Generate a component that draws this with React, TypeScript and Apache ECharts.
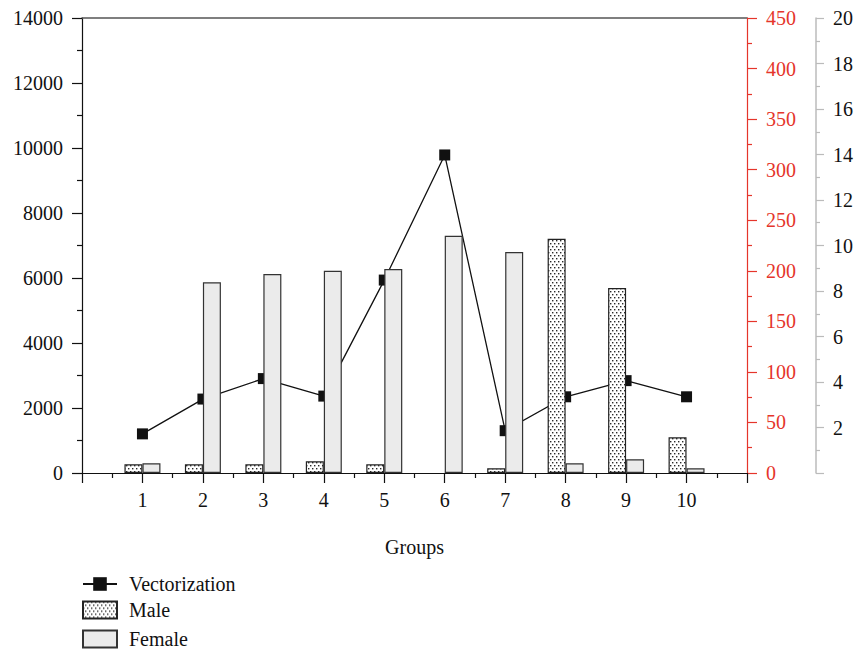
import React, { useEffect, useRef } from "react";
import * as echarts from "echarts";

const groups = ["1", "2", "3", "4", "5", "6", "7", "8", "9", "10"];
const vectorization = [1.72, 3.25, 4.15, 3.38, 8.48, 13.98, 1.86, 3.35, 4.06, 3.35];
const male = [268, 268, 268, 360, 268, 0, 145, 7210, 5692, 1098];
const female = [298, 5867, 6123, 6225, 6277, 7302, 6800, 298, 421, 145];

const FONT = "Liberation Serif";
const FS = 20;
const RED = "#e5352b";

function makeDots(): HTMLCanvasElement {
  const c = document.createElement("canvas");
  c.width = 4;
  c.height = 6;
  const ctx = c.getContext("2d")!;
  ctx.fillStyle = "#ffffff";
  ctx.fillRect(0, 0, 4, 6);
  ctx.fillStyle = "#2a2a2a";
  ctx.fillRect(0, 0, 1.4, 1.4);
  ctx.fillRect(2, 3, 1.4, 1.4);
  return c;
}

export default function App() {
  const ref = useRef<HTMLDivElement>(null);
  useEffect(() => {
    if (!ref.current) return;
    const chart = echarts.init(ref.current, undefined, { renderer: "svg" });
    const xData = ["", ...groups, ""];
    const pad = (a: (number | null)[]) => [null, ...a, null];
    const dots = { image: makeDots(), repeat: "repeat" };
    const legendText = { fontFamily: FONT, fontSize: FS, color: "#111", padding: [0, 0, 0, 7] };
    const mkLegend = (name: string, top: number) => ({
      orient: "vertical",
      left: 82,
      top,
      padding: 0,
      itemWidth: 34,
      itemHeight: 17,
      textStyle: legendText,
      data: [{ name, icon: name === "Vectorization" ? undefined : "rect" }],
    });
    chart.setOption({
      animation: false,
      textStyle: { fontFamily: FONT },
      grid: { left: 82, right: 108, top: 18, bottom: 183 },
      legend: [mkLegend("Vectorization", 574), mkLegend("Male", 600), mkLegend("Female", 629)],
      xAxis: [
        {
          type: "category",
          data: xData,
          boundaryGap: false,
          position: "bottom",
          name: "Groups",
          nameLocation: "middle",
          nameGap: 64,
          nameTextStyle: { fontFamily: FONT, fontSize: FS, color: "#111" },
          axisLine: { onZero: false, lineStyle: { color: "#111", width: 1.2 } },
          axisTick: { show: true, interval: 0, length: 10, lineStyle: { color: "#111", width: 1.2 } },
          axisLabel: { interval: 0, margin: 17, fontFamily: FONT, fontSize: FS, color: "#111" },
          splitLine: { show: false },
        },
        {
          type: "value",
          min: 0,
          max: 11,
          interval: 1,
          position: "bottom",
          axisLine: { show: false, onZero: false },
          axisTick: { show: false },
          axisLabel: { show: false },
          splitLine: { show: false },
          minorTick: { show: true, splitNumber: 2, length: 5, lineStyle: { color: "#111", width: 1.2 } },
        },
        {
          type: "value",
          min: 0,
          max: 11,
          position: "top",
          axisLine: { show: true, onZero: false, lineStyle: { color: "#555", width: 1.5 } },
          axisTick: { show: false },
          axisLabel: { show: false },
          splitLine: { show: false },
        },
      ],
      yAxis: [
        {
          type: "value",
          min: 0,
          max: 14000,
          interval: 2000,
          position: "left",
          axisLine: { show: true, onZero: false, lineStyle: { color: "#111", width: 1.2 } },
          axisTick: { show: true, length: 10, lineStyle: { color: "#111", width: 1.2 } },
          minorTick: { show: true, splitNumber: 2, length: 5, lineStyle: { color: "#111", width: 1.2 } },
          axisLabel: { margin: 19, fontFamily: FONT, fontSize: FS, color: "#111", formatter: (v: number) => String(v) },
          splitLine: { show: false },
        },
        {
          type: "value",
          min: 0,
          max: 450,
          interval: 50,
          position: "right",
          axisLine: { show: true, onZero: false, lineStyle: { color: RED, width: 1.2 } },
          axisTick: { show: true, length: 10, lineStyle: { color: RED, width: 1.2 } },
          minorTick: { show: true, splitNumber: 2, length: 5, lineStyle: { color: RED, width: 1.2 } },
          axisLabel: { margin: 19, fontFamily: FONT, fontSize: FS, color: RED },
          splitLine: { show: false },
        },
        {
          type: "value",
          min: 0,
          max: 20,
          interval: 2,
          position: "right",
          offset: 69,
          axisLine: { show: true, onZero: false, lineStyle: { color: "#bbb", width: 1.5 } },
          axisTick: { show: true, length: 8, lineStyle: { color: "#bbb", width: 1.2 } },
          minorTick: { show: true, splitNumber: 2, length: 4, lineStyle: { color: "#bbb", width: 1.2 } },
          axisLabel: {
            margin: 17,
            fontFamily: FONT,
            fontSize: FS,
            color: "#111",
            formatter: (v: number) => (v === 0 ? "" : String(v)),
          },
          splitLine: { show: false },
        },
      ],
      series: [
        {
          name: "Vectorization",
          type: "line",
          xAxisIndex: 0,
          yAxisIndex: 2,
          data: pad(vectorization),
          symbol: "rect",
          symbolSize: 11,
          z: 1,
          lineStyle: { color: "#111", width: 1.3 },
          itemStyle: { color: "#111" },
        },
        {
          name: "Male",
          type: "bar",
          xAxisIndex: 0,
          yAxisIndex: 0,
          data: pad(male.map((v) => (v === 0 ? null : v))),
          barWidth: 18,
          barGap: "0%",
          z: 3,
          itemStyle: { color: dots, borderColor: "#222", borderWidth: 1.2 },
        },
        {
          name: "Female",
          type: "bar",
          xAxisIndex: 0,
          yAxisIndex: 0,
          data: pad(female),
          barWidth: 18,
          barGap: "0%",
          z: 3,
          itemStyle: { color: "#ebebeb", borderColor: "#333", borderWidth: 1.2 },
        },
      ],
    });
    return () => chart.dispose();
  }, []);
  return <div ref={ref} style={{ width: 856, height: 656, position: "absolute", left: 0, top: 0 }} />;
}
